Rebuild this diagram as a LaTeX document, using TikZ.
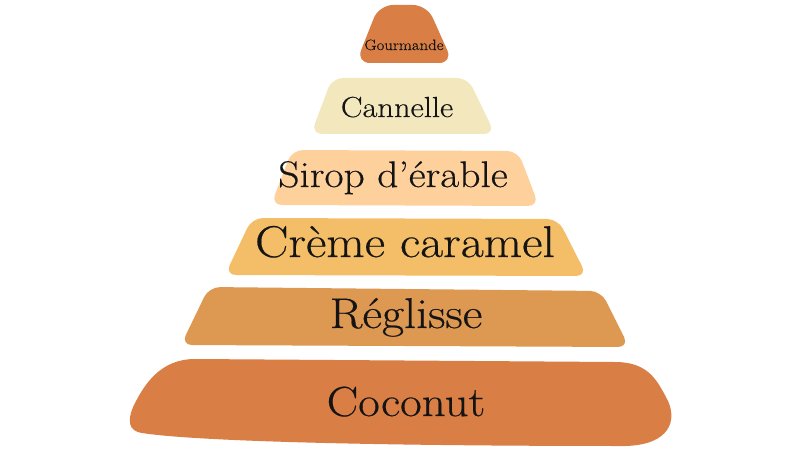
\documentclass[tikz,border=0pt]{standalone}
\usepackage{fontspec}
\setmainfont{Latin Modern Roman}[FakeStretch=1.12,FakeBold=0.4]
\begin{document}
\begin{tikzpicture}[x=1pt,y=-1pt,
  lbl/.style={anchor=base,text=black!92,inner sep=0pt},
  tier/.style={rounded corners=11pt}]
\useasboundingbox (0,0) rectangle (799,449);
\definecolor{cGour}{HTML}{D97F45}
\definecolor{cCann}{HTML}{F3E7BE}
\definecolor{cSirop}{HTML}{FDD09C}
\definecolor{cCreme}{HTML}{F3BE67}
\definecolor{cRegl}{HTML}{DD9852}
\definecolor{cCoco}{HTML}{D97E45}
% tiers
\fill[cGour,rounded corners=14pt] (379,5) -- (427,5) -- (453,63) -- (356,63) -- cycle;
\fill[cCann,tier] (332,78) -- (468,78) -- (495,134) -- (311,134) -- cycle;
\fill[cSirop,tier] (292,150) -- (518,151) -- (539,206) -- (271,205) -- cycle;
\fill[cCreme,tier] (252,218) -- (558,219) -- (587,276) -- (225,275) -- cycle;
\fill[cRegl,tier] (209,287) -- (601,291) -- (629,347) -- (181,345) -- cycle;
\fill[cCoco] (195,359) -- (615,362) .. controls (648,362) and (657,380) .. (667,399)
  .. controls (678,420) and (670,445) .. (625,446)
  .. controls (400,446) and (200,442) .. (142,433)
  .. controls (128,431) and (127,420) .. (134,405)
  .. controls (144,385) and (160,359) .. (195,359) -- cycle;
% labels
\node[lbl] (gour) at (404,50) {\fontsize{15}{18}\selectfont Gourmande};
\node[lbl] (cann) at (397,117) {\fontsize{29}{34}\selectfont Cannelle};
\node[lbl] (sirop) at (393,187) {\fontsize{37}{44}\selectfont Sirop d’érable};
\node[lbl] (creme) at (405,257) {\fontsize{44.5}{52}\selectfont Crème caramel};
\node[lbl] (regl) at (406,328) {\fontsize{43}{52}\selectfont Réglisse};
\node[lbl] (coco) at (406,416) {\fontsize{42}{50}\selectfont Coconut};
\end{tikzpicture}
\end{document}
